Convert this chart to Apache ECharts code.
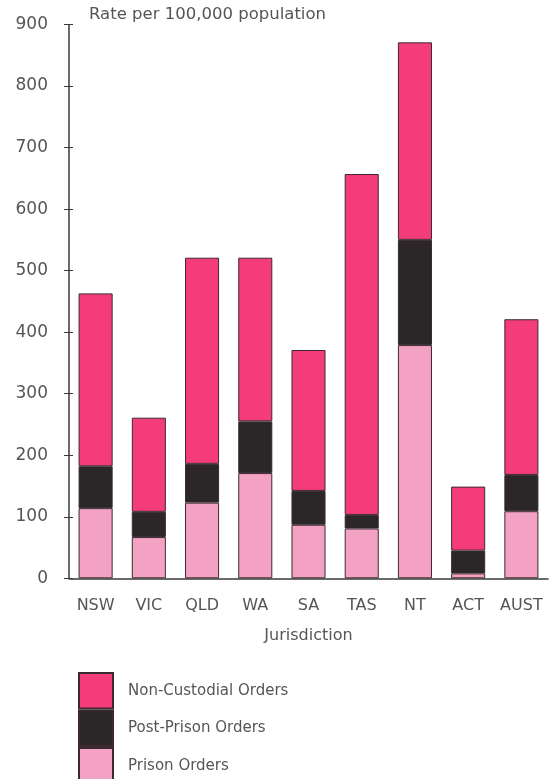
<!DOCTYPE html>
<html>
<head>
<meta charset="utf-8">
<script src="https://cdn.jsdelivr.net/npm/echarts@6/dist/echarts.min.js"></script>
<style>html,body{margin:0;padding:0;background:#fff}#c{width:553px;height:779px}</style>
</head>
<body>
<div id="c"></div>
<script>
var categories = ['NSW','VIC','QLD','WA','SA','TAS','NT','ACT','AUST'];
// segment values (rate per 100,000)
var prisonOrders      = [114, 67, 123, 171, 87, 81, 379, 8, 109];
var postPrisonOrders  = [68, 41, 63, 84, 55, 22, 171, 37, 59];
var nonCustodialOrders= [281, 153, 335, 266, 229, 554, 321, 104, 253];
var yTicks = [0,100,200,300,400,500,600,700,800,900];

var FONT = 'DejaVu Sans, sans-serif';
var TXT = '#555';
var LINE = '#3a3a3a';
var chart = echarts.init(document.getElementById('c'));
function seg(name, data, color){
  return {name:name, type:'bar', stack:'t', data:data, barWidth:'64%',
    itemStyle:{color:color, borderColor:'#3a2a30', borderWidth:1}};
}
chart.setOption({
  backgroundColor:'#fff',
  animation:false,
  title:{text:'Rate per 100,000 population', left:89, top:6, padding:0,
    textStyle:{fontFamily:FONT, fontSize:16.5, fontWeight:'normal', color:TXT}},
  grid:{left:69, right:5, top:24.5, height:553.8},
  legend:{orient:'vertical', left:78, top:672, height:150, padding:0, itemWidth:34, itemHeight:35.5, itemGap:0,
    icon:'rect',
    data:['Non-Custodial Orders','Post-Prison Orders','Prison Orders'],
    textStyle:{fontFamily:FONT, fontSize:15, color:TXT, padding:[0,0,0,10]}, selectedMode:false},
  xAxis:{type:'category', data:categories,
    axisLine:{lineStyle:{color:LINE, width:1.5}},
    axisTick:{inside:true, length:6, lineStyle:{color:LINE}},
    axisLabel:{fontFamily:FONT, fontSize:16, color:TXT, margin:20, interval:0},
    name:'Jurisdiction', nameLocation:'middle', nameGap:50,
    nameTextStyle:{fontFamily:FONT, fontSize:16, color:TXT}},
  yAxis:[{type:'value', min:yTicks[0], max:yTicks[yTicks.length-1], interval:100,
    axisLine:{show:true, lineStyle:{color:LINE, width:1.5}},
    axisTick:{show:true, length:5, lineStyle:{color:LINE}},
    splitLine:{show:false},
    axisLabel:{fontFamily:FONT, fontSize:17, color:TXT, margin:21}},
   {type:'value', min:0, max:900, interval:100, position:'left',
    axisLine:{show:false}, axisTick:{show:true, inside:true, length:4, lineStyle:{color:LINE}},
    splitLine:{show:false}, axisLabel:{show:false}}],
  series:[
    seg('Prison Orders', prisonOrders, '#f4a2c4'),
    seg('Post-Prison Orders', postPrisonOrders, '#2b2627'),
    seg('Non-Custodial Orders', nonCustodialOrders, '#f43c7b')
  ]
});
</script>
</body>
</html>
